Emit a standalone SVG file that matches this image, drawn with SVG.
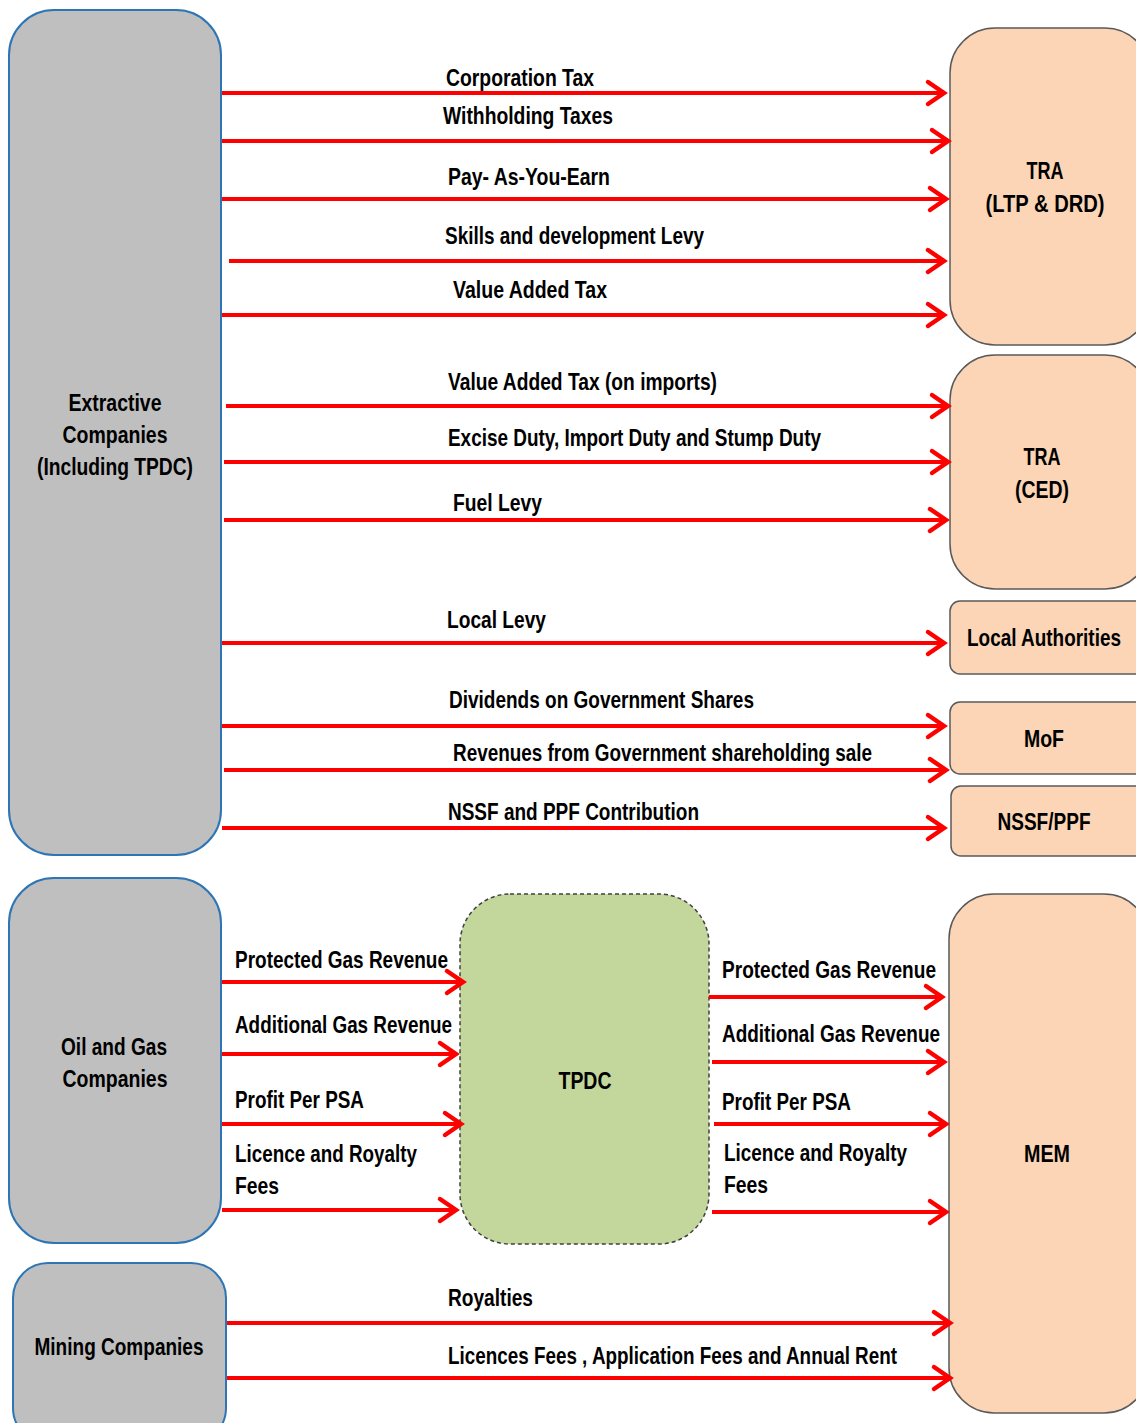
<svg xmlns="http://www.w3.org/2000/svg" width="1136" height="1423" viewBox="0 0 1136 1423">
<style>
.src{fill:#BFBFBF;stroke:#2E75B6;stroke-width:2}
.dst{fill:#FBD5B5;stroke:#595959;stroke-width:1.5}
.mid{fill:#C3D69B;stroke:#404040;stroke-width:1.5;stroke-dasharray:4 3}
text{font-family:"Liberation Sans Narrow","Liberation Sans",Arial,sans-serif;font-weight:bold;font-size:24px;fill:#000}
.c{text-anchor:middle}
.ar{stroke:#FF0000;stroke-width:4;fill:none;marker-end:url(#ah)}
</style>
<defs>
<marker id="ah" markerUnits="userSpaceOnUse" markerWidth="30" markerHeight="30" viewBox="0 0 30 30" refX="20" refY="15" orient="auto" overflow="visible">
<path d="M4,4 L20,15 L4,26" fill="none" stroke="#FF0000" stroke-width="4.5" stroke-linecap="round" stroke-linejoin="miter"/>
</marker>
</defs>
<rect width="1136" height="1423" fill="#FFFFFF"/>

<g id="extractive">
<rect class="src" x="9" y="10" width="212" height="845" rx="45"/>
<text class="c" x="115" y="411" textLength="93" lengthAdjust="spacingAndGlyphs">Extractive</text>
<text class="c" x="115" y="443" textLength="105" lengthAdjust="spacingAndGlyphs">Companies</text>
<text class="c" x="115" y="475" textLength="156" lengthAdjust="spacingAndGlyphs">(Including TPDC)</text>
</g>
<g id="tra-ltp">
<rect class="dst" x="950" y="28" width="200" height="317" rx="45"/>
<text class="c" x="1045" y="179" textLength="37" lengthAdjust="spacingAndGlyphs">TRA</text>
<text class="c" x="1045" y="212" textLength="119" lengthAdjust="spacingAndGlyphs">(LTP &amp;  DRD)</text>
</g>
<g id="tra-ced">
<rect class="dst" x="950" y="355" width="200" height="234" rx="45"/>
<text class="c" x="1042" y="465" textLength="37" lengthAdjust="spacingAndGlyphs">TRA</text>
<text class="c" x="1042" y="498" textLength="54" lengthAdjust="spacingAndGlyphs">(CED)</text>
</g>
<g id="local-authorities">
<rect class="dst" x="950" y="601" width="200" height="73" rx="10"/>
<text class="c" x="1044" y="646" textLength="154" lengthAdjust="spacingAndGlyphs">Local Authorities</text>
</g>
<g id="mof">
<rect class="dst" x="950" y="702" width="200" height="72" rx="10"/>
<text class="c" x="1044" y="747" textLength="40" lengthAdjust="spacingAndGlyphs">MoF</text>
</g>
<g id="nssf-ppf">
<rect class="dst" x="951" y="786" width="200" height="70" rx="10"/>
<text class="c" x="1044" y="830" textLength="93" lengthAdjust="spacingAndGlyphs">NSSF/PPF</text>
</g>
<g id="oil-gas">
<rect class="src" x="9" y="878" width="212" height="365" rx="45"/>
<text class="c" x="114" y="1055" textLength="106" lengthAdjust="spacingAndGlyphs">Oil and Gas</text>
<text class="c" x="115" y="1087" textLength="105" lengthAdjust="spacingAndGlyphs">Companies</text>
</g>
<g id="tpdc">
<rect class="mid" x="460" y="894" width="249" height="350" rx="50"/>
<text class="c" x="585" y="1089" textLength="53" lengthAdjust="spacingAndGlyphs">TPDC</text>
</g>
<g id="mem">
<rect class="dst" x="949" y="894" width="200" height="519" rx="45"/>
<text class="c" x="1047" y="1162" textLength="46" lengthAdjust="spacingAndGlyphs">MEM</text>
</g>
<g id="mining">
<rect class="src" x="13" y="1263" width="213" height="180" rx="35"/>
<text class="c" x="119" y="1355" textLength="169" lengthAdjust="spacingAndGlyphs">Mining Companies</text>
</g>

<g id="connectors">
<line class="ar" x1="222" y1="93" x2="944" y2="93"/>
<line class="ar" x1="222" y1="141" x2="948" y2="141"/>
<line class="ar" x1="222" y1="199" x2="946" y2="199"/>
<line class="ar" x1="229" y1="261" x2="944" y2="261"/>
<line class="ar" x1="222" y1="315" x2="944" y2="315"/>
<line class="ar" x1="226" y1="406" x2="948" y2="406"/>
<line class="ar" x1="224" y1="462" x2="948" y2="462"/>
<line class="ar" x1="224" y1="520" x2="946" y2="520"/>
<line class="ar" x1="222" y1="643" x2="944" y2="643"/>
<line class="ar" x1="222" y1="726" x2="944" y2="726"/>
<line class="ar" x1="224" y1="770" x2="946" y2="770"/>
<line class="ar" x1="222" y1="828" x2="944" y2="828"/>
<line class="ar" x1="222" y1="982" x2="463" y2="982"/>
<line class="ar" x1="222" y1="1054" x2="456" y2="1054"/>
<line class="ar" x1="222" y1="1124" x2="461" y2="1124"/>
<line class="ar" x1="222" y1="1210" x2="456" y2="1210"/>
<line class="ar" x1="709" y1="997" x2="942" y2="997"/>
<line class="ar" x1="712" y1="1062" x2="944" y2="1062"/>
<line class="ar" x1="714" y1="1124" x2="946" y2="1124"/>
<line class="ar" x1="712" y1="1212" x2="946" y2="1212"/>
<line class="ar" x1="227" y1="1323" x2="950" y2="1323"/>
<line class="ar" x1="227" y1="1378" x2="950" y2="1378"/>

<text x="446" y="86" textLength="148" lengthAdjust="spacingAndGlyphs">Corporation Tax</text>
<text x="443" y="124" textLength="170" lengthAdjust="spacingAndGlyphs">Withholding Taxes</text>
<text x="448" y="185" textLength="162" lengthAdjust="spacingAndGlyphs">Pay- As-You-Earn</text>
<text x="445" y="244" textLength="259" lengthAdjust="spacingAndGlyphs">Skills and development Levy</text>
<text x="453" y="298" textLength="154" lengthAdjust="spacingAndGlyphs">Value Added Tax</text>
<text x="448" y="390" textLength="269" lengthAdjust="spacingAndGlyphs">Value Added Tax (on imports)</text>
<text x="448" y="446" textLength="373" lengthAdjust="spacingAndGlyphs">Excise Duty, Import Duty and Stump Duty</text>
<text x="453" y="511" textLength="89" lengthAdjust="spacingAndGlyphs">Fuel Levy</text>
<text x="447" y="628" textLength="99" lengthAdjust="spacingAndGlyphs">Local Levy</text>
<text x="449" y="708" textLength="305" lengthAdjust="spacingAndGlyphs">Dividends on Government Shares</text>
<text x="453" y="761" textLength="419" lengthAdjust="spacingAndGlyphs">Revenues from Government shareholding sale</text>
<text x="448" y="820" textLength="251" lengthAdjust="spacingAndGlyphs">NSSF and PPF Contribution</text>
<text x="235" y="968" textLength="213" lengthAdjust="spacingAndGlyphs">Protected Gas Revenue</text>
<text x="235" y="1033" textLength="217" lengthAdjust="spacingAndGlyphs">Additional Gas Revenue</text>
<text x="235" y="1108" textLength="129" lengthAdjust="spacingAndGlyphs">Profit Per PSA</text>
<text x="235" y="1162" textLength="182" lengthAdjust="spacingAndGlyphs">Licence and Royalty</text>
<text x="235" y="1194" textLength="44" lengthAdjust="spacingAndGlyphs">Fees</text>
<text x="722" y="978" textLength="214" lengthAdjust="spacingAndGlyphs">Protected Gas Revenue</text>
<text x="722" y="1042" textLength="218" lengthAdjust="spacingAndGlyphs">Additional Gas Revenue</text>
<text x="722" y="1110" textLength="129" lengthAdjust="spacingAndGlyphs">Profit Per PSA</text>
<text x="724" y="1161" textLength="183" lengthAdjust="spacingAndGlyphs">Licence and Royalty</text>
<text x="724" y="1193" textLength="44" lengthAdjust="spacingAndGlyphs">Fees</text>
<text x="448" y="1306" textLength="85" lengthAdjust="spacingAndGlyphs">Royalties</text>
<text x="448" y="1364" textLength="449" lengthAdjust="spacingAndGlyphs">Licences Fees , Application Fees and Annual Rent</text>
</g>
</svg>
